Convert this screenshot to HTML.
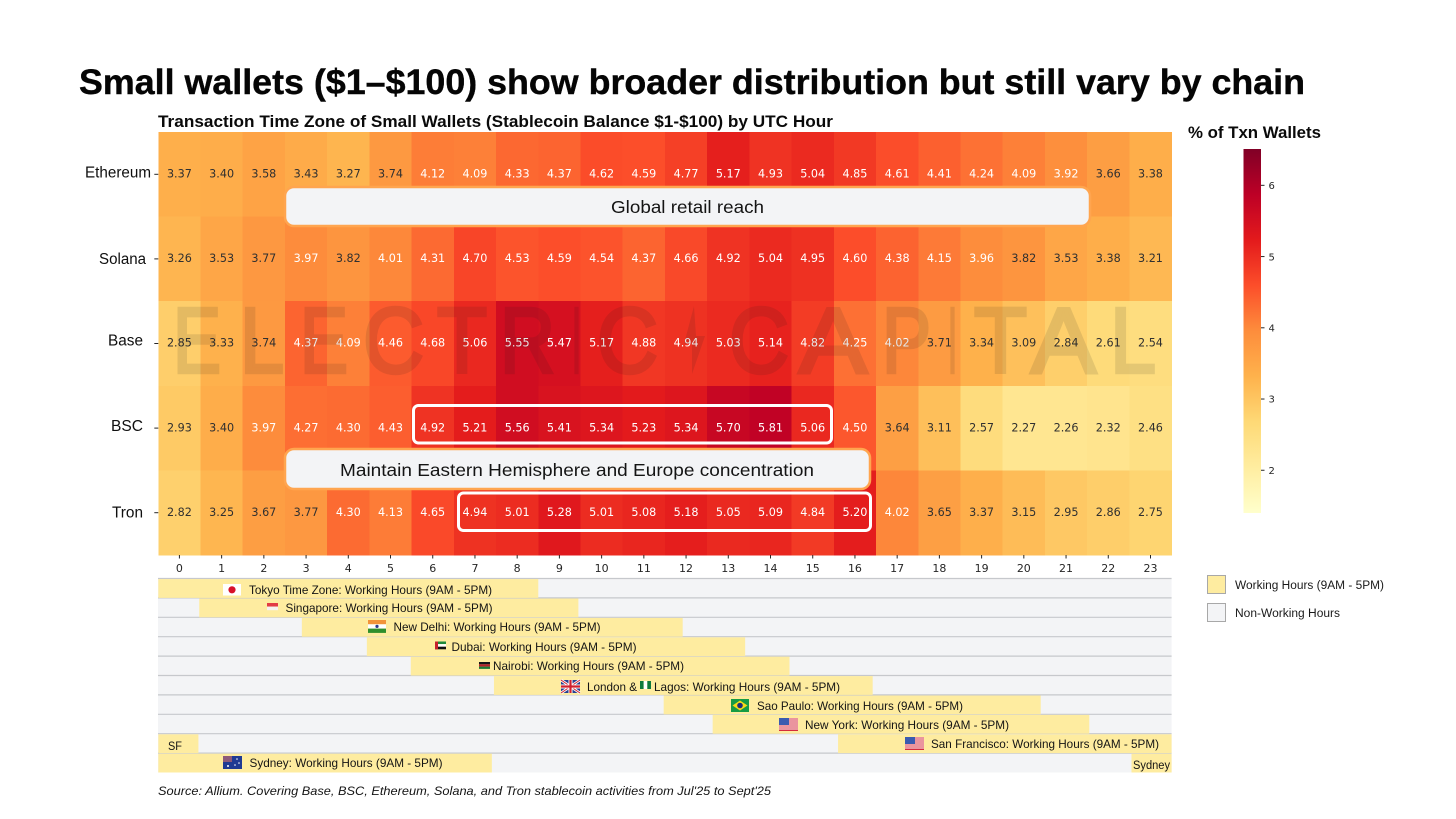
<!DOCTYPE html>
<html lang="en">
<head>
<meta charset="utf-8">
<title>Small wallets transaction time zones</title>
<style>
html,body{margin:0;padding:0;background:#fff;width:1456px;height:819px;overflow:hidden}
svg{display:block}
text{font-family:"Liberation Sans",sans-serif}
.mpl{font-family:"DejaVu Sans",sans-serif}
.tz{font-size:12px;fill:#141414}
</style>
</head>
<body>
<svg id="chart" xmlns="http://www.w3.org/2000/svg" width="1456" height="819" viewBox="0 0 1456 819">
  <rect width="1456" height="819" fill="#fff"/>
  <text x="79" y="94" font-size="35.5" font-weight="700" fill="#050505" stroke="#050505" stroke-width="0.4" textLength="1226" lengthAdjust="spacingAndGlyphs">Small wallets ($1–$100) show broader distribution but still vary by chain</text>
  <text x="158" y="127" font-size="16.5" font-weight="700" fill="#0a0a0a" textLength="675" lengthAdjust="spacingAndGlyphs">Transaction Time Zone of Small Wallets (Stablecoin Balance $1-$100) by UTC Hour</text>
  <text x="1188" y="138" font-size="16.5" font-weight="700" fill="#0a0a0a" textLength="133" lengthAdjust="spacingAndGlyphs">% of Txn Wallets</text>

  <g id="heatmap"></g>
  <g id="yaxis"></g>
  <g id="xaxis"></g>

  <g opacity="0.105" fill="#191919" stroke="#191919" stroke-width="3.6" stroke-linejoin="miter" font-size="93">
    <text x="173" y="372.5" textLength="48" lengthAdjust="spacingAndGlyphs">E</text>
    <text x="240" y="372.5" textLength="44" lengthAdjust="spacingAndGlyphs">L</text>
    <text x="300" y="372.5" textLength="48" lengthAdjust="spacingAndGlyphs">E</text>
    <text x="363" y="372.5" textLength="61" lengthAdjust="spacingAndGlyphs">C</text>
    <text x="437" y="372.5" textLength="50" lengthAdjust="spacingAndGlyphs">T</text>
    <text x="500" y="372.5" textLength="55" lengthAdjust="spacingAndGlyphs">R</text>
    <text x="572" y="372.5" textLength="9" lengthAdjust="spacingAndGlyphs">I</text>
    <text x="597" y="372.5" textLength="61" lengthAdjust="spacingAndGlyphs">C</text>
    <polygon stroke="none" points="694,306 684,344 692,344 692,374 705,336 696,336"/>
    <text x="729" y="372.5" textLength="60" lengthAdjust="spacingAndGlyphs">C</text>
    <text x="799" y="372.5" textLength="68" lengthAdjust="spacingAndGlyphs">A</text>
    <text x="882" y="372.5" textLength="49" lengthAdjust="spacingAndGlyphs">P</text>
    <text x="948" y="372.5" textLength="9" lengthAdjust="spacingAndGlyphs">I</text>
    <text x="974" y="372.5" textLength="53" lengthAdjust="spacingAndGlyphs">T</text>
    <text x="1031" y="372.5" textLength="65" lengthAdjust="spacingAndGlyphs">A</text>
    <text x="1110" y="372.5" textLength="46" lengthAdjust="spacingAndGlyphs">L</text>
  </g>

  <g>
    <rect x="285" y="187" width="805" height="39" rx="9" fill="#f3f4f6" stroke="#ffa54f" stroke-width="2.5"/>
    <text x="611" y="213" font-size="17.5" fill="#141414" textLength="153" lengthAdjust="spacingAndGlyphs">Global retail reach</text>
  </g>
  <g>
    <rect x="285" y="449" width="585" height="40" rx="9" fill="#f3f4f6" stroke="#ffa54f" stroke-width="2.5"/>
    <text x="340" y="476" font-size="17.5" fill="#141414" textLength="474" lengthAdjust="spacingAndGlyphs">Maintain Eastern Hemisphere and Europe concentration</text>
  </g>
  <rect x="413.5" y="405.5" width="418" height="37.5" rx="5" fill="none" stroke="#fff" stroke-width="3"/>
  <rect x="458.5" y="493" width="412" height="37.5" rx="5" fill="none" stroke="#fff" stroke-width="3"/>

  <g id="colorbar"></g>

  <g id="tzgrid"></g>

  <g>
    <rect x="223" y="584" width="18" height="11.5" fill="#fff"/>
    <circle cx="232" cy="589.8" r="3.6" fill="#d8102a"/>
    <text class="tz" x="249" y="594" textLength="243" lengthAdjust="spacingAndGlyphs">Tokyo Time Zone: Working Hours (9AM - 5PM)</text>

    <rect x="267" y="603" width="11" height="3.6" fill="#e23b44"/>
    <rect x="267" y="606.6" width="11" height="3.6" fill="#f6f2ee"/>
    <text class="tz" x="285.5" y="612" textLength="207" lengthAdjust="spacingAndGlyphs">Singapore: Working Hours (9AM - 5PM)</text>

    <rect x="368" y="620" width="18" height="4.3" fill="#f2943a"/>
    <rect x="368" y="624.3" width="18" height="4.3" fill="#fff"/>
    <rect x="368" y="628.6" width="18" height="4.3" fill="#2f8f2c"/>
    <circle cx="377" cy="626.4" r="1.6" fill="#2a3a8c"/>
    <text class="tz" x="393.5" y="631" textLength="207" lengthAdjust="spacingAndGlyphs">New Delhi: Working Hours (9AM - 5PM)</text>

    <rect x="435" y="641.5" width="11" height="2.6" fill="#1f8a3a"/>
    <rect x="435" y="644.1" width="11" height="2.6" fill="#fff"/>
    <rect x="435" y="646.7" width="11" height="2.6" fill="#111"/>
    <rect x="435" y="641.5" width="3" height="7.8" fill="#c8202c"/>
    <text class="tz" x="451.5" y="651" textLength="185" lengthAdjust="spacingAndGlyphs">Dubai: Working Hours (9AM - 5PM)</text>

    <rect x="479" y="662" width="11" height="2.3" fill="#161616"/>
    <rect x="479" y="664.3" width="11" height="2.3" fill="#b5202a"/>
    <rect x="479" y="666.6" width="11" height="2.3" fill="#1d7a35"/>
    <text class="tz" x="493" y="670" textLength="191" lengthAdjust="spacingAndGlyphs">Nairobi: Working Hours (9AM - 5PM)</text>

    <g>
      <rect x="561" y="680" width="19" height="13" fill="#27408f"/>
      <path d="M561 680L580 693M580 680L561 693" stroke="#fff" stroke-width="2.6"/>
      <path d="M561 680L580 693M580 680L561 693" stroke="#d0202e" stroke-width="1"/>
      <path d="M570.5 680V693M561 686.5H580" stroke="#fff" stroke-width="4"/>
      <path d="M570.5 680V693M561 686.5H580" stroke="#d0202e" stroke-width="2.2"/>
    </g>
    <text class="tz" x="587" y="691" textLength="50" lengthAdjust="spacingAndGlyphs">London &amp;</text>
    <rect x="640" y="681" width="3.7" height="8" fill="#0f7a3c"/>
    <rect x="643.7" y="681" width="3.6" height="8" fill="#fff"/>
    <rect x="647.3" y="681" width="3.7" height="8" fill="#0f7a3c"/>
    <text class="tz" x="654" y="691" textLength="186" lengthAdjust="spacingAndGlyphs">Lagos: Working Hours (9AM - 5PM)</text>

    <g>
      <rect x="731" y="699" width="18" height="13" fill="#169b45"/>
      <polygon points="740,700.5 747.5,705.5 740,710.5 732.5,705.5" fill="#f7d917"/>
      <circle cx="740" cy="705.5" r="2.8" fill="#1f2f78"/>
    </g>
    <text class="tz" x="757" y="710" textLength="206" lengthAdjust="spacingAndGlyphs">Sao Paulo: Working Hours (9AM - 5PM)</text>

    <g>
      <rect x="779" y="718" width="19" height="13" fill="#fff"/>
      <path d="M779 719H798M779 721H798M779 723H798M779 725H798M779 727H798M779 729H798M779 730.5H798" stroke="#d42b3c" stroke-width="1"/>
      <rect x="779" y="718" width="10" height="7" fill="#3a5bb0"/>
    </g>
    <text class="tz" x="805" y="729" textLength="204" lengthAdjust="spacingAndGlyphs">New York: Working Hours (9AM - 5PM)</text>

    <g>
      <rect x="905" y="737" width="19" height="13" fill="#fff"/>
      <path d="M905 738H924M905 740H924M905 742H924M905 744H924M905 746H924M905 748H924M905 749.5H924" stroke="#d42b3c" stroke-width="1"/>
      <rect x="905" y="737" width="10" height="7" fill="#3a5bb0"/>
    </g>
    <text class="tz" x="931" y="748" textLength="228" lengthAdjust="spacingAndGlyphs">San Francisco: Working Hours (9AM - 5PM)</text>
    <text class="tz" x="168" y="750" textLength="14" lengthAdjust="spacingAndGlyphs">SF</text>

    <g>
      <rect x="223" y="756" width="19" height="13" fill="#1f3a93"/>
      <rect x="223" y="756" width="9" height="6" fill="#8c5a7a"/>
      <circle cx="228" cy="766" r="1" fill="#fff"/>
      <circle cx="237" cy="759" r="0.8" fill="#fff"/>
      <circle cx="239" cy="763" r="0.8" fill="#fff"/>
      <circle cx="235" cy="765" r="0.8" fill="#fff"/>
    </g>
    <text class="tz" x="249.5" y="767" textLength="193" lengthAdjust="spacingAndGlyphs">Sydney: Working Hours (9AM - 5PM)</text>
    <text class="tz" x="1133" y="769" textLength="37" lengthAdjust="spacingAndGlyphs" style="font-size:11.5px">Sydney</text>
  </g>

  <g>
    <rect x="1207.5" y="575.5" width="18" height="18" fill="#feeca0" stroke="#a8a8a8"/>
    <text x="1235" y="589" font-size="11.5" fill="#1a1a1a" textLength="149" lengthAdjust="spacingAndGlyphs">Working Hours (9AM - 5PM)</text>
    <rect x="1207.5" y="603.5" width="18" height="18" fill="#f3f4f6" stroke="#a8a8a8"/>
    <text x="1235" y="617" font-size="11.5" fill="#1a1a1a" textLength="105" lengthAdjust="spacingAndGlyphs">Non-Working Hours</text>
  </g>

  <text x="158" y="795" font-size="12" font-style="italic" fill="#141414" textLength="613" lengthAdjust="spacingAndGlyphs">Source: Allium. Covering Base, BSC, Ethereum, Solana, and Tron stablecoin activities from Jul'25 to Sept'25</text>
</svg>

<script>
// ---- data ----
const chains = ['Ethereum', 'Solana', 'Base', 'BSC', 'Tron'];
const hours = [0,1,2,3,4,5,6,7,8,9,10,11,12,13,14,15,16,17,18,19,20,21,22,23];
const ethereum = [3.37,3.40,3.58,3.43,3.27,3.74,4.12,4.09,4.33,4.37,4.62,4.59,4.77,5.17,4.93,5.04,4.85,4.61,4.41,4.24,4.09,3.92,3.66,3.38];
const solana = [3.26,3.53,3.77,3.97,3.82,4.01,4.31,4.70,4.53,4.59,4.54,4.37,4.66,4.92,5.04,4.95,4.60,4.38,4.15,3.96,3.82,3.53,3.38,3.21];
const base = [2.85,3.33,3.74,4.37,4.09,4.46,4.68,5.06,5.55,5.47,5.17,4.88,4.94,5.03,5.14,4.82,4.25,4.02,3.71,3.34,3.09,2.84,2.61,2.54];
const bsc = [2.93,3.40,3.97,4.27,4.30,4.43,4.92,5.21,5.56,5.41,5.34,5.23,5.34,5.70,5.81,5.06,4.50,3.64,3.11,2.57,2.27,2.26,2.32,2.46];
const tron = [2.82,3.25,3.67,3.77,4.30,4.13,4.65,4.94,5.01,5.28,5.01,5.08,5.18,5.05,5.09,4.84,5.20,4.02,3.65,3.37,3.15,2.95,2.86,2.75];
const colorbarTicks = [2,3,4,5,6];
const colorMin = 1.4;
const colorMax = 6.51;
const timezones = ['tokyo','singapore','new-delhi','dubai','nairobi','london-lagos','sao-paulo','new-york','san-francisco','sydney'];
const workStart = [0,0.97,3.4,4.94,5.98,7.95,11.97,13.13,16.1,0];
const workEnd = [9,9.95,12.42,13.9,14.95,16.92,20.9,22.05,24,7.9];
const wrapStart = [null,null,null,null,null,null,null,null,0,23.05];
const wrapEnd = [null,null,null,null,null,null,null,null,0.95,24];

const series = [ethereum, solana, base, bsc, tron];
const ylorrd = ['#ffffcc','#ffeda0','#fed976','#feb24c','#fd8d3c','#fc4e2a','#e31a1c','#bd0026','#800026'];

// ---- layout and scales ----
const NS = 'http://www.w3.org/2000/svg';
const plotLeft = 158.3, plotRight = 1171.6, plotTop = 132, plotBottom = 555;
const barTop = 149, barBottom = 513;
const tzTop = 578.5, tzStep = 19.4;
const labelEnds = [151, 146, 143, 143, 143];
const labelWidths = [66, 47, 35, 32, 31];
const labelNudge = [-2, 0, -3, -2, 0];

function xScale(h) { return plotLeft + h * (plotRight - plotLeft) / hours.length; }
function yScale(r) { return plotTop + r * (plotBottom - plotTop) / chains.length; }
function barScale(v) { return barBottom - (v - colorMin) / (colorMax - colorMin) * (barBottom - barTop); }
function tzY(r) { return tzTop + r * tzStep; }
function hex(c) { return [1, 3, 5].map(function (i) { return parseInt(c.substr(i, 2), 16); }); }
function colorScale(v) {
  const t = Math.max(0, Math.min(1, (v - colorMin) / (colorMax - colorMin))) * (ylorrd.length - 1);
  const i = Math.min(ylorrd.length - 2, Math.floor(t));
  const a = hex(ylorrd[i]), b = hex(ylorrd[i + 1]), f = t - i;
  return 'rgb(' + a.map(function (x, k) { return Math.round(x + (b[k] - x) * f); }).join(',') + ')';
}
function make(tag, attrs, parent) {
  const el = document.createElementNS(NS, tag);
  Object.keys(attrs).forEach(function (k) { el.setAttribute(k, attrs[k]); });
  parent.appendChild(el);
  return el;
}

// ---- heatmap ----
const heatmap = document.getElementById('heatmap');
series.forEach(function (row, r) {
  row.forEach(function (v, c) {
    const x0 = xScale(c), x1 = xScale(c + 1), y0 = yScale(r), y1 = yScale(r + 1);
    const cell = make('rect', { x: x0, y: y0, width: x1 - x0 + 0.4, height: y1 - y0 + 0.4, fill: colorScale(v), 'shape-rendering': 'crispEdges' }, heatmap);
    
    
  });
});
series.forEach(function (row, r) {
  row.forEach(function (v, c) {
    const label = make('text', { x: xScale(c + 0.5), y: yScale(r + 0.5) + 3.2, 'text-anchor': 'middle', 'font-size': 11.2, class: 'mpl', fill: v >= 3.9 ? '#ffffff' : '#303030' }, heatmap);
    
    
    label.textContent = v.toFixed(2);
  });
});

// ---- y axis ----
const yaxis = document.getElementById('yaxis');
chains.forEach(function (name, r) {
  const cy = yScale(r + 0.5);
  const tick = make('line', { x1: plotLeft - 4, x2: plotLeft, y1: cy, y2: cy, stroke: '#262626', 'stroke-width': 1 }, yaxis);
  
  
  const label = make('text', { x: labelEnds[r] - labelWidths[r], y: cy + 5 + labelNudge[r], 'font-size': 15.5, fill: '#0f0f0f', textLength: labelWidths[r], lengthAdjust: 'spacingAndGlyphs' }, yaxis);
  
  
  label.textContent = name;
});

// ---- x axis ----
const xaxis = document.getElementById('xaxis');
hours.forEach(function (h, i) {
  const cx = xScale(i + 0.5);
  const tick = make('line', { x1: cx, x2: cx, y1: plotBottom, y2: plotBottom + 3.5, stroke: '#262626', 'stroke-width': 1 }, xaxis);
  
  
  const label = make('text', { x: cx, y: plotBottom + 17, 'text-anchor': 'middle', 'font-size': 11, class: 'mpl', fill: '#262626' }, xaxis);
  
  
  label.textContent = h;
});

// ---- colour bar ----
const colorbar = document.getElementById('colorbar');
const defs = make('defs', {}, colorbar);
const grad = make('linearGradient', { id: 'ylorrd-gradient', x1: 0, x2: 0, y1: 1, y2: 0 }, defs);
ylorrd.forEach(function (c, i) {
  make('stop', { offset: i / (ylorrd.length - 1), 'stop-color': c }, grad);
});
const barRect = make('rect', { x: 1243.5, y: barTop, width: 17.5, height: barBottom - barTop, fill: 'url(#ylorrd-gradient)' }, colorbar);


colorbarTicks.forEach(function (v) {
  const cy = barScale(v);
  const tick = make('line', { x1: 1261, x2: 1264.5, y1: cy, y2: cy, stroke: '#262626', 'stroke-width': 1 }, colorbar);
  
  
  const label = make('text', { x: 1268.5, y: cy + 3.7, 'font-size': 10, class: 'mpl', fill: '#262626' }, colorbar);
  
  
  label.textContent = v;
});

// ---- working-hours rows ----
const tzgrid = document.getElementById('tzgrid');
timezones.forEach(function (name, r) {
  const y = tzY(r);
  const rowBg = make('rect', { x: plotLeft - 0.3, y: y, width: plotRight - plotLeft + 0.3, height: tzStep, fill: '#f3f4f6' }, tzgrid);
  
  
  const line = make('line', { x1: plotLeft - 0.3, x2: plotRight, y1: y, y2: y, stroke: '#c6c8cc', 'stroke-width': 1.2 }, tzgrid);
  
  
});
timezones.forEach(function (name, r) {
  const y = tzY(r) + 0.6;
  const bar = make('rect', { x: xScale(workStart[r]), y: y, width: xScale(workEnd[r]) - xScale(workStart[r]), height: tzStep - 0.6, fill: '#feeca0' }, tzgrid);
  
  
  if (wrapStart[r] !== null) {
    const wrap = make('rect', { x: xScale(wrapStart[r]), y: y, width: xScale(wrapEnd[r]) - xScale(wrapStart[r]), height: tzStep - 0.6, fill: '#feeca0' }, tzgrid);
    
    
  }
});
</script>
</body>
</html>
